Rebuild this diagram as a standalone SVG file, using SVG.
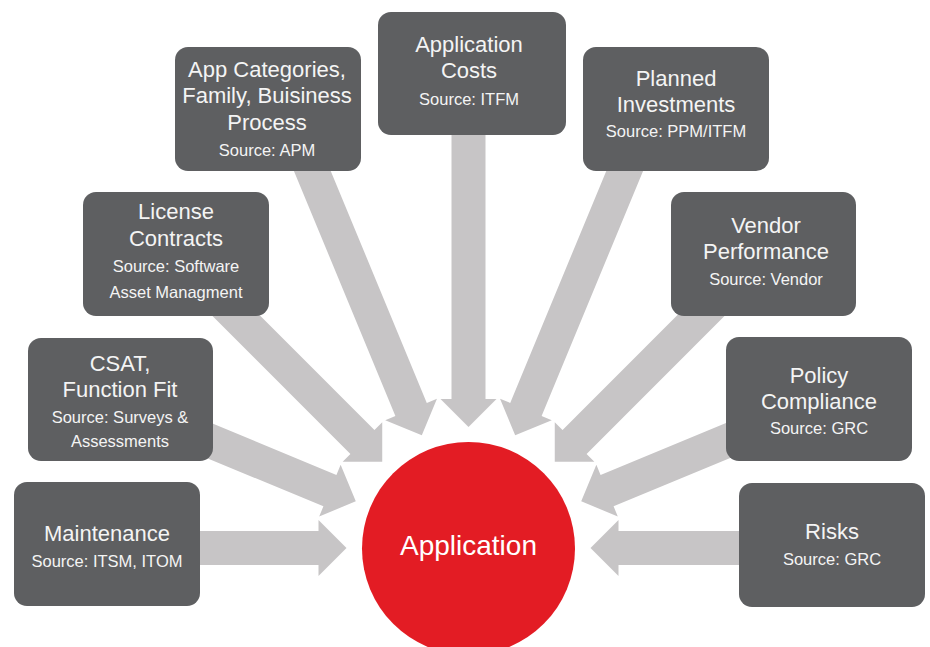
<svg xmlns="http://www.w3.org/2000/svg" xmlns:xlink="http://www.w3.org/1999/xlink" width="930" height="647" viewBox="0 0 930 647">
<style>
.box{fill:#5e5f61}
.arrow{fill:#c7c5c6}
.t{font-family:"Liberation Sans",Arial,Helvetica,sans-serif;fill:#f4f4f4;text-anchor:middle;font-size:22px}
.s{font-family:"Liberation Sans",Arial,Helvetica,sans-serif;fill:#f4f4f4;text-anchor:middle;font-size:16.5px}
.c{font-family:"Liberation Sans",Arial,Helvetica,sans-serif;fill:#ffffff;text-anchor:middle;font-size:28px}
</style>
<defs>
<path id="arr" d="M0,0 L-28,-28 L-28,-17 L-330,-17 L-330,17 L-28,17 L-28,28 Z"/>
</defs>
<rect width="930" height="647" fill="#ffffff"/>
<g id="connectors" class="arrow">
<use xlink:href="#arr" href="#arr" transform="translate(468.5,548) rotate(0) translate(-122,0)"/>
<use xlink:href="#arr" href="#arr" transform="translate(468.5,548) rotate(22.5) translate(-122,0)"/>
<use xlink:href="#arr" href="#arr" transform="translate(468.5,548) rotate(45) translate(-122,0)"/>
<use xlink:href="#arr" href="#arr" transform="translate(468.5,548) rotate(67.5) translate(-122,0)"/>
<use xlink:href="#arr" href="#arr" transform="translate(468.5,548) rotate(90) translate(-121,0)"/>
<use xlink:href="#arr" href="#arr" transform="translate(468.5,548) rotate(112.5) translate(-122,0)"/>
<use xlink:href="#arr" href="#arr" transform="translate(468.5,548) rotate(135) translate(-122,0)"/>
<use xlink:href="#arr" href="#arr" transform="translate(468.5,548) rotate(157.5) translate(-122,0)"/>
<use xlink:href="#arr" href="#arr" transform="translate(468.5,548) rotate(180) translate(-122,0)"/>
</g>
<g id="maintenance">
<rect class="box" x="14" y="482" width="186" height="124" rx="13"/>
<text class="t" x="107" y="541">Maintenance</text>
<text class="s" x="107" y="567">Source: ITSM, ITOM</text>
</g>
<g id="csat">
<rect class="box" x="28" y="338" width="185" height="123" rx="13"/>
<text class="t" x="120" y="371">CSAT,</text>
<text class="t" x="120" y="397">Function Fit</text>
<text class="s" x="120" y="423">Source: Surveys &amp;</text>
<text class="s" x="120" y="447">Assessments</text>
</g>
<g id="license">
<rect class="box" x="83" y="192" width="186" height="124" rx="13"/>
<text class="t" x="176" y="219">License</text>
<text class="t" x="176" y="246">Contracts</text>
<text class="s" x="176" y="272">Source: Software</text>
<text class="s" x="176" y="298">Asset Managment</text>
</g>
<g id="app-categories">
<rect class="box" x="175" y="47" width="186" height="124" rx="13"/>
<text class="t" x="267" y="77">App Categories,</text>
<text class="t" x="267" y="103">Family, Buisiness</text>
<text class="t" x="267" y="130">Process</text>
<text class="s" x="267" y="156">Source: APM</text>
</g>
<g id="application-costs">
<rect class="box" x="378" y="12" width="188" height="123" rx="13"/>
<text class="t" x="469" y="52">Application</text>
<text class="t" x="469" y="78">Costs</text>
<text class="s" x="469" y="105">Source: ITFM</text>
</g>
<g id="planned-investments">
<rect class="box" x="583" y="47" width="186" height="124" rx="13"/>
<text class="t" x="676" y="86">Planned</text>
<text class="t" x="676" y="112">Investments</text>
<text class="s" x="676" y="137">Source: PPM/ITFM</text>
</g>
<g id="vendor-performance">
<rect class="box" x="671" y="192" width="185" height="124" rx="13"/>
<text class="t" x="766" y="233">Vendor</text>
<text class="t" x="766" y="259">Performance</text>
<text class="s" x="766" y="285">Source: Vendor</text>
</g>
<g id="policy-compliance">
<rect class="box" x="726" y="337" width="186" height="124" rx="13"/>
<text class="t" x="819" y="383">Policy</text>
<text class="t" x="819" y="409">Compliance</text>
<text class="s" x="819" y="434">Source: GRC</text>
</g>
<g id="risks">
<rect class="box" x="739" y="483" width="186" height="124" rx="13"/>
<text class="t" x="832" y="539">Risks</text>
<text class="s" x="832" y="565">Source: GRC</text>
</g>
<g id="application">
<circle cx="468.5" cy="548.5" r="106.5" fill="#e31c24"/>
<text class="c" x="468.5" y="555">Application</text>
</g>
</svg>
